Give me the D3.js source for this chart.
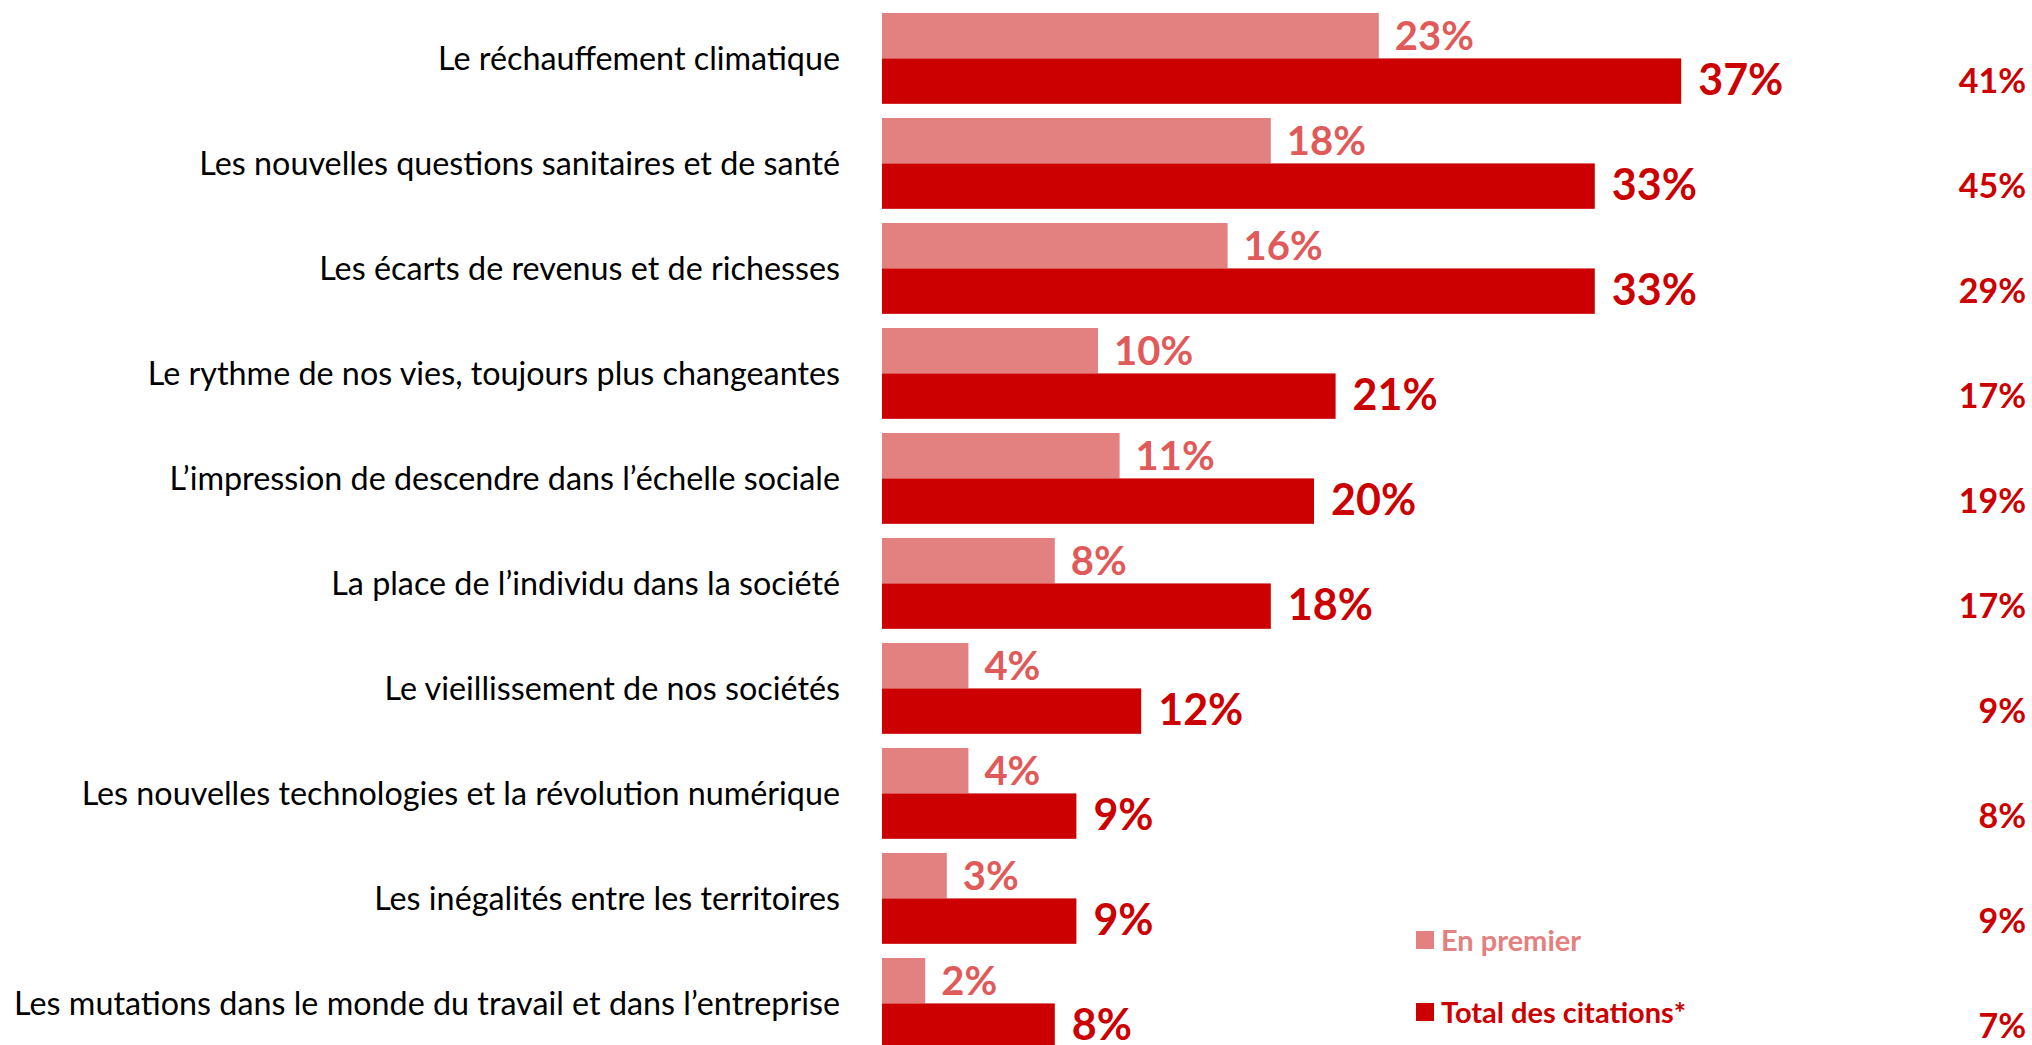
<!DOCTYPE html>
<html><head><meta charset="utf-8">
<script src="https://cdn.jsdelivr.net/npm/d3@7"></script>
<style>
html,body{margin:0;padding:0;background:#fff;overflow:hidden;}
text{font-family:Lato,"Open Sans",sans-serif;}
</style></head>
<body>
<svg id="chart" width="2032" height="1045"></svg>
<script>
const categories = [
  "Le réchauffement climatique",
  "Les nouvelles questions sanitaires et de santé",
  "Les écarts de revenus et de richesses",
  "Le rythme de nos vies, toujours plus changeantes",
  "L’impression de descendre dans l’échelle sociale",
  "La place de l’individu dans la société",
  "Le vieillissement de nos sociétés",
  "Les nouvelles technologies et la révolution numérique",
  "Les inégalités entre les territoires",
  "Les mutations dans le monde du travail et dans l’entreprise"
];
const enPremier = [23, 18, 16, 10, 11, 8, 4, 4, 3, 2];
const totalCitations = [37, 33, 33, 21, 20, 18, 12, 9, 9, 8];
const rightColumn = [41, 45, 29, 17, 19, 17, 9, 8, 9, 7];
const seriesNames = ["En premier", "Total des citations*"];

const LIGHT = "#E38080", LIGHT_TXT = "#E05A5A", DARK = "#CC0000";

const svg = d3.select("#chart");
const x = d3.scaleLinear().domain([0, 100]).range([882, 882 + 2160]);
const step = 105, padIn = 0.135;
const y = d3.scaleBand().domain(categories)
  .range([13, 13 + step * (categories.length - padIn)])
  .paddingInner(padIn).paddingOuter(0);
const sub = d3.scaleBand().domain([0, 1]).range([0, y.bandwidth()]);

const rows = categories.map((c, i) => ({c, p: enPremier[i], t: totalCitations[i], r: rightColumn[i]}));

const g = svg.selectAll("g.row").data(rows).join("g").attr("class", "row")
  .attr("transform", d => `translate(0,${y(d.c)})`);

g.append("rect").attr("x", x(0)).attr("y", sub(0))
  .attr("width", d => x(d.p) - x(0)).attr("height", sub.bandwidth()).attr("fill", LIGHT);
g.append("rect").attr("x", x(0)).attr("y", sub(1))
  .attr("width", d => x(d.t) - x(0)).attr("height", sub.bandwidth()).attr("fill", DARK);

g.append("text").attr("x", 840).attr("y", y.bandwidth() / 2 - 1)
  .attr("text-anchor", "end").attr("dominant-baseline", "central")
  .attr("font-size", 32.3).attr("fill", "#000").text(d => d.c);

g.append("text").attr("x", d => x(d.p) + 16).attr("y", sub(0) + sub.bandwidth() / 2 - 1)
  .attr("dominant-baseline", "central").attr("font-size", 40).attr("font-weight", 700)
  .attr("fill", LIGHT_TXT).text(d => d.p + "%");
g.append("text").attr("x", d => x(d.t) + 17).attr("y", sub(1) + sub.bandwidth() / 2 - 3)
  .attr("dominant-baseline", "central").attr("font-size", 43).attr("font-weight", 700)
  .attr("fill", DARK).text(d => d.t + "%");

g.append("text").attr("x", 2026).attr("y", sub(1) + sub.bandwidth() / 2 - 2)
  .attr("text-anchor", "end").attr("dominant-baseline", "central")
  .attr("font-size", 34).attr("font-weight", 700).attr("fill", DARK)
  .text(d => d.r + "%");

// legend
const legY = [940, 1012];
const legCol = [LIGHT, DARK];
const lg = svg.selectAll("g.leg").data(seriesNames).join("g").attr("class", "leg")
  .attr("transform", (d, i) => `translate(1416,${legY[i]})`);
lg.append("rect").attr("x", 0).attr("y", -9).attr("width", 18).attr("height", 18)
  .attr("fill", (d, i) => legCol[i]);
lg.append("text").attr("x", 25).attr("y", -1).attr("dominant-baseline", "central")
  .attr("font-size", 29).attr("font-weight", 700).attr("fill", (d, i) => legCol[i]).text(d => d);
</script>
</body></html>
